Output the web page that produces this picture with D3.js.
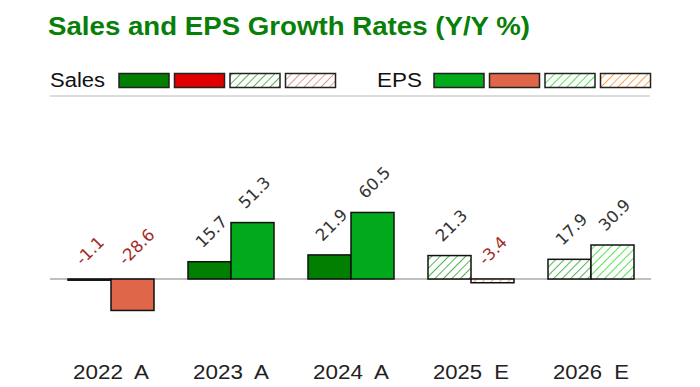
<!DOCTYPE html>
<html>
<head>
<meta charset="utf-8">
<script src="https://cdn.jsdelivr.net/npm/d3@7"></script>
<style>
  body { margin: 0; background: #fff; }
  svg { display: block; }
</style>
</head>
<body>
<div id="chart"></div>
<script>
// data
const years = ["2022  A", "2023  A", "2024  A", "2025  E", "2026  E"]
const estimate = [false, false, false, true, true]
const sales = [-1.1, 15.7, 21.9, 21.3, 17.9]
const eps = [-28.6, 51.3, 60.5, -3.4, 30.9]

const W = 700, H = 387
const ZERO_LEFT = 50, ZERO_RIGHT = 651

const svg = d3.select("#chart").append("svg")
    .attr("width", W)
    .attr("height", H)

// hatch patterns for the estimate bars
const defs = svg.append("defs")
const hatches = {
    salesEst: "#3cae3c",
    salesEstNeg: "#e08a8a",
    epsEst: "#3ee23e",
    epsEstNeg: "#ff9a33"
}
Object.entries(hatches).forEach(([id, col]) => {
    const p = defs.append("pattern")
        .attr("id", id)
        .attr("patternUnits", "userSpaceOnUse")
        .attr("width", 6).attr("height", 6)
        .attr("patternTransform", "rotate(45)")
    p.append("rect").attr("width", 6).attr("height", 6).attr("fill", "#fff")
    p.append("line")
        .attr("x1", 0).attr("y1", 0).attr("x2", 0).attr("y2", 6)
        .attr("stroke", col).attr("stroke-width", 1.8)
})

const colors = {
    sales: { pos: "#007f00", neg: "#e00000", estPos: "url(#salesEst)", estNeg: "url(#salesEstNeg)" },
    eps: { pos: "#00aa1a", neg: "#e0664a", estPos: "url(#epsEst)", estNeg: "url(#epsEstNeg)" }
}

// title (the picture is a little stretched sideways, so fix the width)
svg.append("text")
    .attr("x", 48).attr("y", 35)
    .attr("font-family", "Liberation Sans, Arial, sans-serif")
    .attr("font-weight", "bold")
    .attr("font-size", 26)
    .attr("textLength", 482)
    .attr("lengthAdjust", "spacingAndGlyphs")
    .attr("fill", "#087f08")
    .text("Sales and EPS Growth Rates (Y/Y %)")

// legend
const legend = [
    { label: "Sales", x: 50, len: 55, boxX: 119, key: "sales" },
    { label: "EPS", x: 377, len: 45, boxX: 434, key: "eps" }
]
legend.forEach(l => {
    svg.append("text")
        .attr("x", l.x).attr("y", 87)
        .attr("font-family", "Liberation Sans, Arial, sans-serif")
        .attr("font-size", 20)
        .attr("textLength", l.len)
        .attr("lengthAdjust", "spacingAndGlyphs")
        .attr("fill", "#111")
        .text(l.label)
    const c = colors[l.key]
    ;[c.pos, c.neg, c.estPos, c.estNeg].forEach((f, i) => {
        svg.append("rect")
            .attr("x", l.boxX + i * 55.5).attr("y", 73.5)
            .attr("width", 50).attr("height", 14)
            .attr("fill", f)
            .attr("stroke", "#222").attr("stroke-width", 1.5)
    })
})

svg.append("line")
    .attr("x1", 50).attr("x2", 650)
    .attr("y1", 96).attr("y2", 96)
    .attr("stroke", "#d0d0d0").attr("stroke-width", 1.5)

// scales
const x0 = d3.scaleBand()
    .domain(years)
    .range([ZERO_LEFT + 1, ZERO_RIGHT])

const x1 = d3.scaleBand()
    .domain(["sales", "eps"])
    .range([x0.bandwidth() / 2 - 43, x0.bandwidth() / 2 + 43])

const y = d3.scaleLinear()
    .domain([-40, 80])
    .range([323, 191])

const rows = []
years.forEach((yr, i) => {
    rows.push({ year: yr, key: "sales", value: sales[i], est: estimate[i] })
    rows.push({ year: yr, key: "eps", value: eps[i], est: estimate[i] })
})

function fillFor(d) {
    const c = colors[d.key]
    if (d.est) return d.value < 0 ? c.estNeg : c.estPos
    return d.value < 0 ? c.neg : c.pos
}

// zero line
svg.append("line")
    .attr("x1", ZERO_LEFT).attr("x2", ZERO_RIGHT)
    .attr("y1", y(0)).attr("y2", y(0))
    .attr("stroke", "#aaa").attr("stroke-width", 1.5)

// bars
svg.selectAll("rect.bar")
    .data(rows)
    .enter().append("rect")
        .attr("class", "bar")
        .attr("x", d => x0(d.year) + x1(d.key))
        .attr("width", x1.bandwidth())
        .attr("y", d => y(Math.max(0, d.value)))
        .attr("height", d => Math.abs(y(d.value) - y(0)))
        .attr("fill", fillFor)
        .attr("stroke", "#111")
        .attr("stroke-width", 1.5)

// value labels, rotated; plain hyphen for negatives like the original
const fmt = v => d3.format(".1f")(v).replace("\u2212", "-")
svg.selectAll("text.val")
    .data(rows)
    .enter().append("text")
        .attr("class", "val")
        .attr("transform", d => {
            const cx = x0(d.year) + x1(d.key) + x1.bandwidth() / 2 - 7
            const cy = y(Math.max(0, d.value)) - 13
            return `translate(${cx},${cy}) rotate(-45)`
        })
        .attr("font-family", "DejaVu Sans, Verdana, sans-serif")
        .attr("font-size", 16.5)
        .attr("fill", d => d.value < 0 ? "#a52a2a" : "#333")
        .text(d => fmt(d.value))

// x axis labels
const xAxis = d3.axisBottom(x0).tickSize(0).tickPadding(0)
const gx = svg.append("g")
    .attr("transform", "translate(0,365)")
    .call(xAxis)
gx.select(".domain").remove()
gx.selectAll("text")
    .attr("font-family", "Liberation Sans, Arial, sans-serif")
    .attr("font-size", 20)
    .attr("fill", "#222")
    .attr("dy", "0.72em")
    .attr("textLength", 76)
    .attr("lengthAdjust", "spacingAndGlyphs")
    .attr("xml:space", "preserve")
</script>
</body>
</html>
